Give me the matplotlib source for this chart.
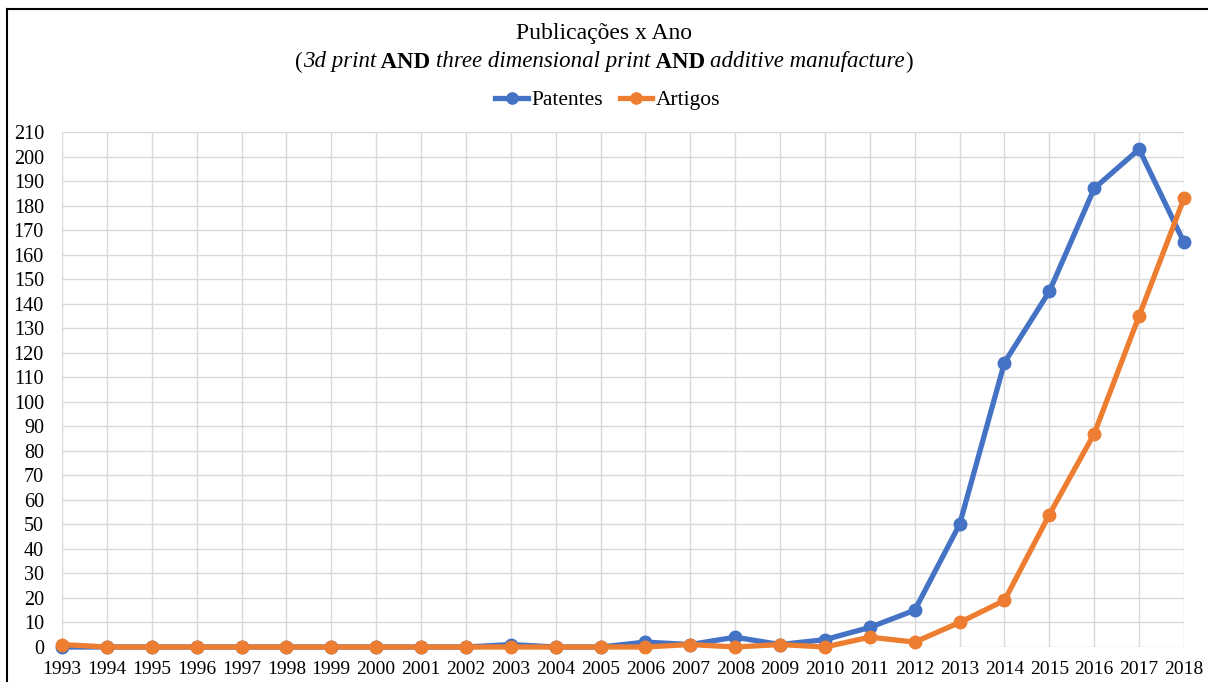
import matplotlib
matplotlib.use("Agg")
import matplotlib.pyplot as plt
from matplotlib.lines import Line2D

# ============================================================
# DATA
# ============================================================

years = list(range(1993, 2019))

patentes = [0, 0, 0, 0, 0, 0, 0, 0, 0, 0, 1, 0, 0, 2, 1, 4, 1, 3,
            8, 15, 50, 116, 145, 187, 203, 165]
artigos = [1, 0, 0, 0, 0, 0, 0, 0, 0, 0, 0, 0, 0, 0, 1, 0, 1, 0,
           4, 2, 10, 19, 54, 87, 135, 183]

y_ticks = list(range(0, 211, 10))

# subtitle pieces: (text, style, weight)
subtitle_parts = [
    ("(", "normal", "normal"),
    ("3d print", "italic", "normal"),
    (" AND ", "normal", "bold"),
    ("three dimensional print", "italic", "normal"),
    (" AND ", "normal", "bold"),
    ("additive manufacture", "italic", "normal"),
    (")", "normal", "normal"),
]

BLUE = "#4472C4"
ORANGE = "#ED7D31"
GRID = "#D9D9D9"
W, H = 1208, 682

plt.rcParams["font.family"] = "Liberation Serif"

fig = plt.figure(figsize=(W / 100, H / 100), dpi=100)
ax = fig.add_axes([62 / W, 1 - 647 / H, (1184 - 62) / W, (647 - 132) / H])

ax.plot(years, patentes, color=BLUE, linewidth=3.8, marker="o",
        markersize=9, label="Patentes", clip_on=False, zorder=3)
ax.plot(years, artigos, color=ORANGE, linewidth=3.8, marker="o",
        markersize=9, label="Artigos", clip_on=False, zorder=4)

ax.set_xlim(years[0], years[-1])
ax.set_ylim(0, 210)
ax.set_xticks(years)
ax.set_xticklabels([str(y) for y in years])
ax.set_yticks(y_ticks)
ax.grid(True, color=GRID, linewidth=1)
ax.set_axisbelow(True)
for s in ax.spines.values():
    s.set_visible(False)
ax.tick_params(axis="both", length=0, colors="black")
ax.tick_params(axis="y", pad=13, labelsize=14.5)
ax.tick_params(axis="x", pad=10, labelsize=14)

# title block
fig.text(0.5, 1 - 34 / H, "Publicações x Ano", ha="center", va="center",
         fontsize=17)

# subtitle mixes italic and bold runs: lay them out side by side
renderer = fig.canvas.get_renderer()
pieces = []
for txt, style, weight in subtitle_parts:
    t = fig.text(0, 1 - 62 / H, txt, ha="left", va="center", fontsize=16.5,
                 fontstyle=style, fontweight=weight)
    pieces.append(t)
widths = [t.get_window_extent(renderer).width for t in pieces]
x = (W - sum(widths)) / 2
for t, w in zip(pieces, widths):
    t.set_x(x / W)
    x += w

fig.legend(loc="center", bbox_to_anchor=(0.503, 1 - 100 / H), ncol=2,
           frameon=False, fontsize=15.5, handlelength=1.5, handletextpad=0.15,
           columnspacing=0.8, markerscale=0.9)

# outer frame (left and top edges)
fig.add_artist(Line2D([7 / W, 7 / W], [0, 1 - 9 / H],
                      transform=fig.transFigure, color="black", linewidth=1.5))
fig.add_artist(Line2D([7 / W, 1], [1 - 9 / H, 1 - 9 / H],
                      transform=fig.transFigure, color="black", linewidth=1.5))

fig.savefig("out.png", dpi=100, facecolor="white")
